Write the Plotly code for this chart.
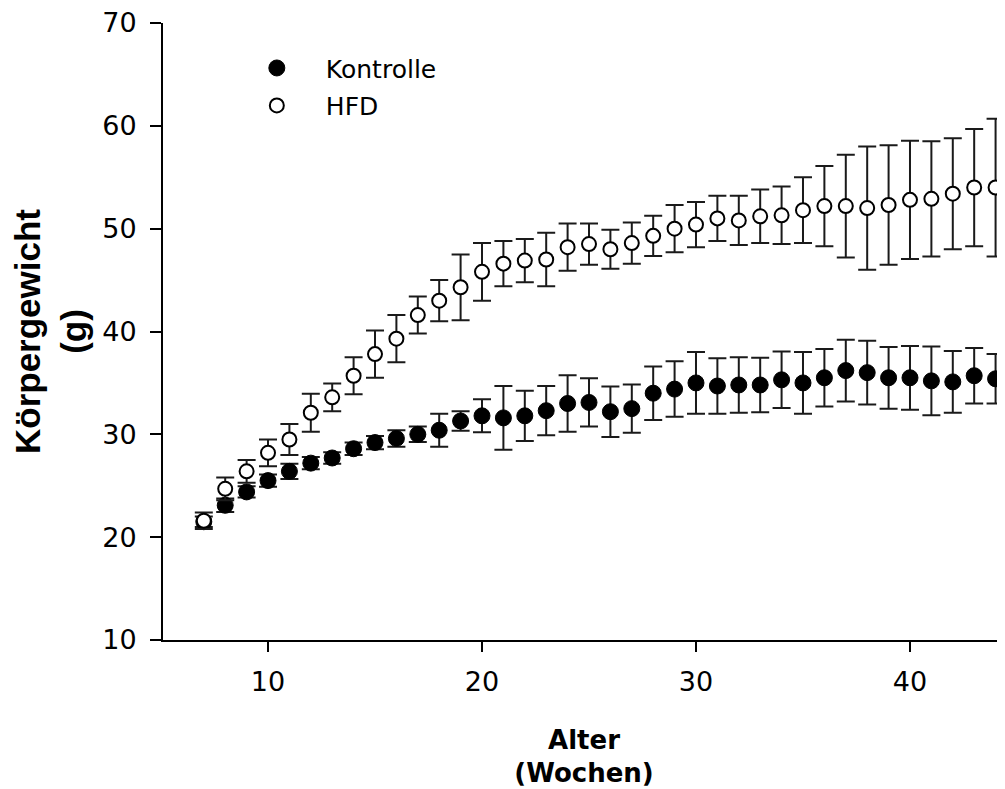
import plotly.graph_objects as go

weeks = list(range(7, 45))

kontrolle = [21.5, 23.1, 24.4, 25.5, 26.4, 27.2, 27.7, 28.6, 29.2, 29.6,
             30.0, 30.4, 31.3, 31.8, 31.6, 31.8, 32.3, 33.0, 33.1, 32.2,
             32.5, 34.0, 34.4, 35.0, 34.7, 34.8, 34.8, 35.3, 35.0, 35.5,
             36.2, 36.0, 35.5, 35.5, 35.2, 35.1, 35.7, 35.4]
kontrolle_se = [0.5, 0.65, 0.55, 0.6, 0.75, 0.6, 0.55, 0.6, 0.65, 0.8,
                0.75, 1.6, 0.95, 1.6, 3.1, 2.45, 2.4, 2.75, 2.35, 2.45,
                2.35, 2.6, 2.7, 3.0, 2.7, 2.7, 2.65, 2.75, 3.0, 2.8,
                3.0, 3.1, 3.0, 3.1, 3.35, 3.0, 2.7, 2.4]

hfd = [21.6, 24.7, 26.4, 28.2, 29.5, 32.1, 33.6, 35.7, 37.8, 39.3,
       41.6, 43.0, 44.3, 45.8, 46.6, 46.9, 47.0, 48.2, 48.5, 48.0,
       48.6, 49.3, 50.0, 50.4, 51.0, 50.8, 51.2, 51.3, 51.8, 52.2,
       52.2, 52.0, 52.3, 52.8, 52.9, 53.4, 54.0, 54.0]
hfd_se = [0.8, 1.1, 1.1, 1.3, 1.5, 1.85, 1.35, 1.8, 2.3, 2.3,
          1.8, 2.0, 3.2, 2.8, 2.2, 2.1, 2.6, 2.3, 2.0, 1.9,
          2.0, 1.95, 2.3, 2.2, 2.2, 2.4, 2.6, 2.8, 3.2, 3.9,
          5.0, 6.0, 5.8, 5.75, 5.6, 5.4, 5.7, 6.7]

x_ticks = [10, 20, 30, 40]
y_ticks = [10, 20, 30, 40, 50, 60, 70]

EB = dict(type="data", symmetric=True, color="#1a1a1a", thickness=2, width=9)

fig = go.Figure()
fig.add_trace(go.Scatter(
    x=weeks, y=kontrolle, mode="markers", name="Kontrolle", legendgroup="a",
    marker=dict(symbol="circle", size=16, color="black", line=dict(color="black", width=1)),
    error_y=dict(array=kontrolle_se, **EB),
))
fig.add_trace(go.Scatter(
    x=weeks, y=hfd, mode="markers", name="HFD", legendgroup="b",
    marker=dict(symbol="circle", size=14, color="white", line=dict(color="black", width=2)),
    error_y=dict(array=hfd_se, **EB),
))

tick_font = dict(family="DejaVu Sans", size=27, color="black")

fig.update_layout(
    width=997, height=781,
    margin=dict(l=155, r=0, t=15, b=149),
    plot_bgcolor="white", paper_bgcolor="white",
    showlegend=True,
    legend=dict(x=0.077, y=0.964, xanchor="left", yanchor="top",
                font=dict(family="DejaVu Sans", size=25, color="black"),
                bgcolor="rgba(0,0,0,0)", itemwidth=88, tracegroupgap=2,
                traceorder="grouped"),
    xaxis=dict(
        range=[5.093, 44.44], tickvals=x_ticks, ticks="outside", ticklen=10, tickwidth=2,
        tickcolor="black", showline=True, linewidth=2, linecolor="black",
        showgrid=False, zeroline=False, tickfont=tick_font, ticklabelstandoff=7,
        ticklabeloverflow="allow",
        title=dict(text="Alter<br>(Wochen)", standoff=34,
                   font=dict(family="DejaVu Sans", size=26, color="black", weight="bold")),
    ),
    yaxis=dict(
        range=[10, 70], tickvals=y_ticks, ticks="outside", ticklen=11, tickwidth=2,
        tickcolor="black", showline=True, linewidth=2, linecolor="black",
        showgrid=False, zeroline=False, tickfont=tick_font, ticklabelstandoff=8,
        ticklabeloverflow="allow",
        title=dict(text="Körpergewicht<br>(g)", standoff=18,
                   font=dict(family="Liberation Sans", size=35, color="black", weight="bold")),
    ),
)

fig.write_html("out.html")
